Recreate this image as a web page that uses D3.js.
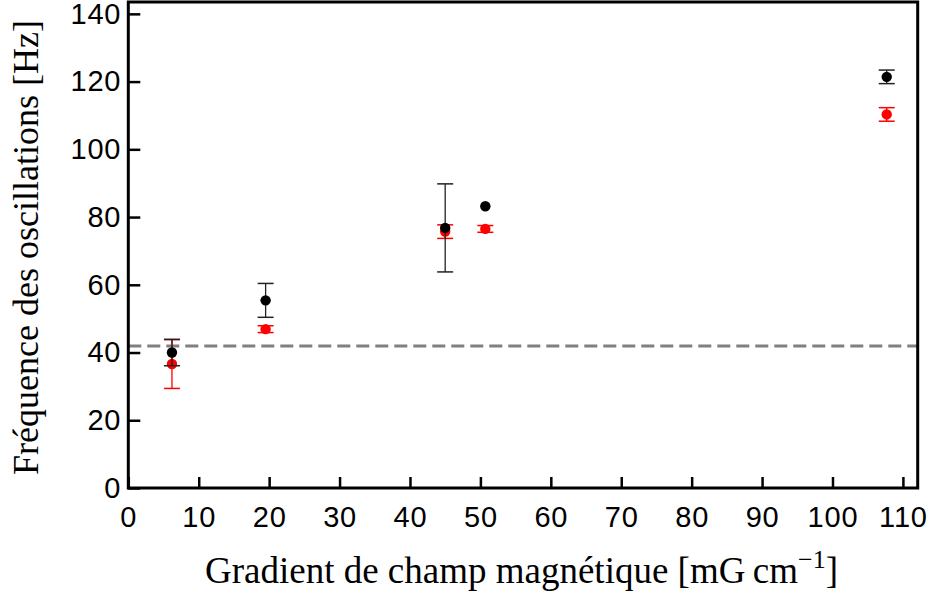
<!DOCTYPE html>
<html><head><meta charset="utf-8">
<script src="https://cdn.jsdelivr.net/npm/d3@7"></script>
<style>body{margin:0;background:#fff;} svg{display:block;}</style>
</head><body>
<svg id="c" width="933" height="597"></svg>
<script>
const gradient = [6.2, 19.5, 45.0, 50.7, 107.7];
const freqBlack = [40.0, 55.4, 76.8, 83.2, 121.4];
const errBlack = [3.9, 5.0, 13.0, 0, 2.0];
const freqRed = [36.6, 46.9, 75.7, 76.5, 110.3];
const errRed = [7.2, 1.0, 2.0, 1.0, 2.0];
const refLine = 41.9;
const xTicks = [0,10,20,30,40,50,60,70,80,90,100,110];
const yTicks = [0,20,40,60,80,100,120,140];

const L = 128.3, R = 917.7, T = 2, B = 488;
const svg = d3.select("#c");
const x = d3.scaleLinear().domain([0, 112.1]).range([L, R]);
const y = d3.scaleLinear().domain([0, 143.5]).range([B, T]);

// dashed reference line
svg.append("line").attr("x1", L).attr("x2", R)
  .attr("y1", y(refLine)).attr("y2", y(refLine))
  .attr("stroke", "#808080").attr("stroke-width", 3)
  .attr("stroke-dasharray", "13,6");

function series(vals, errs, color, barColor) {
  const g = svg.append("g");
  const d = gradient.map((gx, i) => ({x: gx, v: vals[i], e: errs[i]}));
  const cap = 8;
  d.forEach(p => {
    const cx = x(p.x);
    if (p.e > 0) {
      g.append("line").attr("x1", cx).attr("x2", cx)
        .attr("y1", y(p.v - p.e)).attr("y2", y(p.v + p.e))
        .attr("stroke", barColor).attr("stroke-width", 1.3);
      [p.v - p.e, p.v + p.e].forEach(ev => {
        g.append("line").attr("x1", cx - cap).attr("x2", cx + cap)
          .attr("y1", y(ev)).attr("y2", y(ev))
          .attr("stroke", barColor).attr("stroke-width", 1.5);
      });
    }
    g.append("circle").attr("cx", cx).attr("cy", y(p.v)).attr("r", 5.2)
      .attr("fill", color);
  });
}
series(freqRed, errRed, "#ff0000", "#ff0000");
series(freqBlack, errBlack, "#000000", "#222222");

// axes (ticks inward)
const xAxis = d3.axisBottom(x).tickValues(xTicks).tickSize(-11).tickPadding(18).tickFormat(d3.format("d"));
const yAxis = d3.axisLeft(y).tickValues(yTicks).tickSize(-12).tickPadding(7).tickFormat(d3.format("d"));
const gx = svg.append("g").attr("transform", `translate(0,${B})`).call(xAxis);
const gy = svg.append("g").attr("transform", `translate(${L},0)`).call(yAxis);
[gx, gy].forEach(g => {
  g.select(".domain").remove();
  g.selectAll(".tick line").attr("stroke", "#000").attr("stroke-width", 2.5);
  g.selectAll(".tick text").attr("font-family", "Liberation Sans, Arial, sans-serif")
    .attr("font-size", 29).attr("letter-spacing", 0.8).attr("fill", "#000");
});
gx.selectAll(".tick text").attr("dy", "0.71em");

// frame
svg.append("rect").attr("x", L).attr("y", T).attr("width", R - L).attr("height", B - T)
  .attr("fill", "none").attr("stroke", "#000").attr("stroke-width", 3);

// titles
const xt = svg.append("text").attr("x", (205 + 838) / 2).attr("y", 583)
  .attr("text-anchor", "middle").attr("font-family", "Liberation Serif, Times New Roman, serif")
  .attr("font-size", 37).attr("fill", "#000");
xt.append("tspan").text("Gradient de champ magnétique [mG\u2009cm");
xt.append("tspan").attr("font-size", 26).attr("dy", -15).text("\u22121");
xt.append("tspan").attr("dy", 15).text("]");

svg.append("text").attr("transform", `translate(38,${(20 + 475) / 2}) rotate(-90)`)
  .attr("text-anchor", "middle").attr("font-family", "Liberation Serif, Times New Roman, serif")
  .attr("font-size", 36).attr("fill", "#000")
  .text("Fréquence des oscillations [Hz]");
</script>
</body></html>
